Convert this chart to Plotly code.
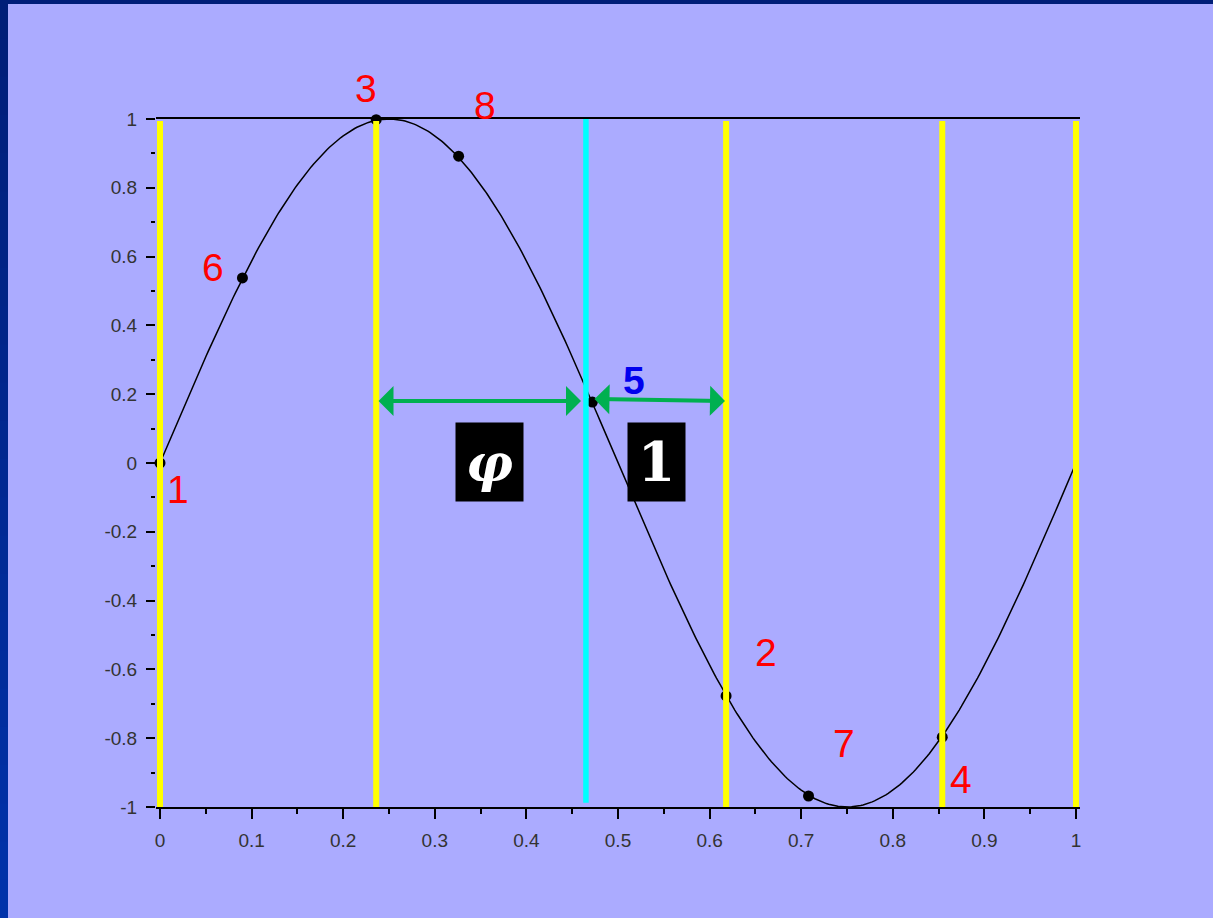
import numpy as np
import plotly.graph_objects as go

# Sampled points on the wave, numbered in the order they were taken
point_labels = ["1", "2", "3", "4", "5", "6", "7", "8"]
point_x = [0.0, 0.618, 0.236, 0.854, 0.472, 0.090, 0.708, 0.326]
point_y = [0.0, -0.677, 0.998, -0.797, 0.177, 0.538, -0.968, 0.892]

# Positions of the vertical guide lines
guide_x = [0.0, 0.236, 0.618, 0.854, 1.0]
split_x = 0.465

# Axis ticks
x_ticks = [0, 0.1, 0.2, 0.3, 0.4, 0.5, 0.6, 0.7, 0.8, 0.9, 1]
x_tick_text = ["0", "0.1", "0.2", "0.3", "0.4", "0.5", "0.6", "0.7", "0.8", "0.9", "1"]
y_ticks = [-1, -0.8, -0.6, -0.4, -0.2, 0, 0.2, 0.4, 0.6, 0.8, 1]
y_tick_text = ["-1", "-0.8", "-0.6", "-0.4", "-0.2", "0", "0.2", "0.4", "0.6", "0.8", "1"]

# One period of the wave y = sin(2*pi*x)
wave_x = np.linspace(0, 1, 401)
wave_y = np.sin(2 * np.pi * wave_x)

W, H = 1213, 918
PAD = 4 / 916  # small range padding so the edge guides are not clipped
L, R, T, B = 156, 133, 119, 111
plot_w = W - L - R
plot_h = H - T - B

BG = "#ABABFF"
fig = go.Figure()

fig.add_trace(go.Scatter(x=wave_x, y=wave_y, mode="lines",
                         line=dict(color="black", width=1.5),
                         hoverinfo="skip", showlegend=False))
fig.add_trace(go.Scatter(x=point_x, y=point_y, mode="markers",
                         marker=dict(color="black", size=11),
                         cliponaxis=False, showlegend=False))

for gx in guide_x:
    fig.add_trace(go.Scatter(x=[gx, gx], y=[-1, 0.994], mode="lines",
                             line=dict(color="#FFFF00", width=6),
                             hoverinfo="skip", showlegend=False))
fig.add_trace(go.Scatter(x=[split_x, split_x], y=[-0.988, 1], mode="lines",
                         line=dict(color="#00FFFF", width=5.5),
                         hoverinfo="skip", showlegend=False))

# Number labels next to each point: (x, y, extra vertical shift in px)
label_pos = {
    "1": (0.0197, -0.076, 0), "2": (0.6616, -0.552, 0), "3": (0.225, 1.0, 31),
    "4": (0.8745, -0.919, 0), "5": (0.5175, 0.241, 0), "6": (0.0579, 0.567, 0),
    "7": (0.7467, -0.814, 0), "8": (0.3548, 1.0, 14),
}
annotations = []
for lab in point_labels:
    lx, ly, shift = label_pos[lab]
    if lab == "5":
        txt, col = "<b>5</b>", "#0000EE"
    else:
        txt, col = lab, "#FF0000"
    annotations.append(dict(x=lx, y=ly, xref="x", yref="y", text=txt, yshift=shift,
                            showarrow=False, xanchor="center", yanchor="middle",
                            font=dict(family="Liberation Sans", size=39, color=col)))

# Double-headed span arrows
arrow_style = dict(xref="x", yref="y", axref="x", ayref="y", text="",
                   showarrow=True, arrowside="end+start",
                   arrowhead=1, startarrowhead=1, arrowsize=1.25, startarrowsize=1.25,
                   arrowwidth=4, arrowcolor="#00B050", standoff=0, startstandoff=0)
annotations.append(dict(x=0.4596, y=0.180, ax=0.2369, ay=0.180, **arrow_style))
annotations.append(dict(x=0.6168, y=0.180, ax=0.4727, ay=0.186, **arrow_style))

# Boxed symbols under the arrows
box_style = dict(xref="x", yref="y", showarrow=False, bgcolor="black",
                 borderpad=0, xanchor="center", yanchor="middle", height=78)
annotations.append(dict(x=0.3597, y=0.003, width=67,
                        text="<b><i>φ</i></b>",
                        font=dict(family="DejaVu Serif", size=52, color="white"),
                        **box_style))
annotations.append(dict(x=0.542, y=0.003, width=57,
                        text="<b>1</b>",
                        font=dict(family="DejaVu Serif", size=54, color="white"),
                        **box_style))

# Dark frame along the top and left edges of the page
def px_x(p):
    return (p - L) / plot_w

def px_y(p):
    return (H - B - p) / plot_h

shapes = []
n_seg = 24
c0 = np.array([0x00, 0x1E, 0x78])
c1 = np.array([0x00, 0x32, 0xAA])
for i in range(n_seg):
    t = i / (n_seg - 1)
    c = (c0 + (c1 - c0) * t).astype(int)
    y_top = i * H / n_seg
    y_bot = (i + 1) * H / n_seg + 2
    shapes.append(dict(type="rect", xref="paper", yref="paper",
                       x0=px_x(-2), x1=px_x(8), y0=px_y(y_bot), y1=px_y(y_top),
                       fillcolor="rgb(%d,%d,%d)" % tuple(c), line=dict(width=0),
                       layer="below"))
shapes.append(dict(type="rect", xref="paper", yref="paper",
                   x0=px_x(-2), x1=px_x(W + 2), y0=px_y(4), y1=px_y(-2),
                   fillcolor="#001E78", line=dict(width=0), layer="below"))

tick_font = dict(family="Liberation Sans", size=19, color="#333333")
fig.update_layout(
    width=W, height=H,
    margin=dict(l=L, r=R, t=T, b=B, pad=0),
    paper_bgcolor=BG, plot_bgcolor=BG,
    showlegend=False,
    annotations=annotations,
    shapes=shapes,
    xaxis=dict(range=[-PAD, 1 + PAD], tickvals=x_ticks, ticktext=x_tick_text,
               showgrid=False, zeroline=False, showline=True, linecolor="black",
               linewidth=2, mirror=True, ticks="outside", ticklen=10, tickwidth=1.5,
               tickcolor="black", tickfont=tick_font, ticklabelstandoff=5,
               minor=dict(dtick=0.05, tick0=0, ticks="outside", ticklen=5,
                          tickwidth=1.5, tickcolor="black", showgrid=False)),
    yaxis=dict(range=[-1, 1], tickvals=y_ticks, ticktext=y_tick_text,
               showgrid=False, zeroline=False, showline=False,
               ticks="outside", ticklen=9, tickwidth=1.5, tickcolor="black",
               tickfont=tick_font, ticklabelstandoff=5,
               minor=dict(dtick=0.1, tick0=0, ticks="outside", ticklen=4,
                          tickwidth=1.5, tickcolor="black", showgrid=False)),
)

fig.write_html("out.html")
